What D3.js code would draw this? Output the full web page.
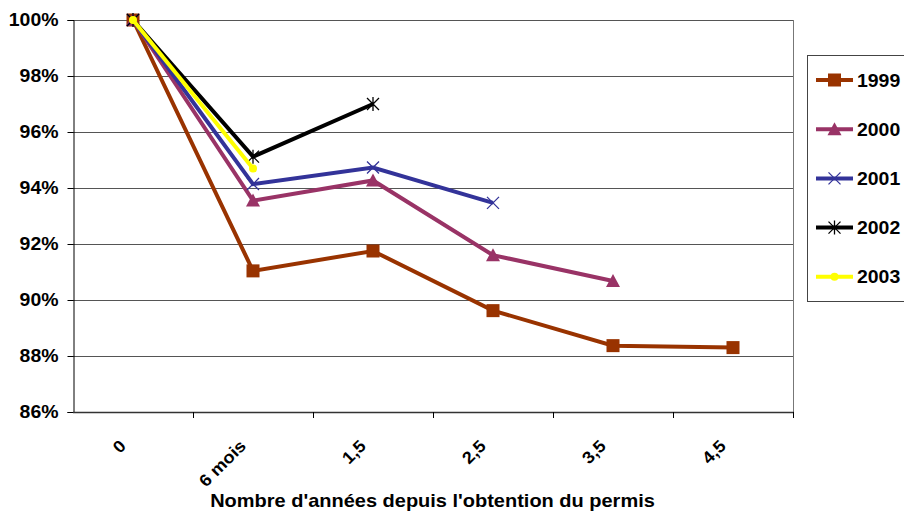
<!DOCTYPE html>
<html>
<head>
<meta charset="utf-8">
<script src="https://cdn.jsdelivr.net/npm/d3@7"></script>
<style>
  html, body { margin: 0; padding: 0; background: #fff; }
  svg { display: block; font-family: "Liberation Sans", Arial, Helvetica, sans-serif; }
</style>
</head>
<body>
<svg id="chart" width="904" height="512"></svg>
<script>
const categories = ["0", "6 mois", "1,5", "2,5", "3,5", "4,5"];
const seriesNames = ["1999", "2000", "2001", "2002", "2003"];
const values1999 = [1.0, 0.9104, 0.9175, 0.8962, 0.8837, 0.8830];
const values2000 = [1.0, 0.9355, 0.9427, 0.9160, 0.9068];
const values2001 = [1.0, 0.9414, 0.9473, 0.9347];
const values2002 = [1.0, 0.9512, 0.9700];
const values2003 = [1.0, 0.9470];
const yTicks = [0.86, 0.88, 0.90, 0.92, 0.94, 0.96, 0.98, 1.00];
const xTitle = "Nombre d'années depuis l'obtention du permis";

const colors = ["#993300", "#993366", "#333399", "#000000", "#FFFF00"];
const markers = ["square", "triangle", "x", "star", "circle"];
const allValues = [values1999, values2000, values2001, values2002, values2003];

const svg = d3.select("#chart");
const pLeft = 73, pRight = 793, pTop = 20, pBottom = 412;
const stretch = 1.08;

function widen(sel) {
  sel.each(function () {
    const w = this.getComputedTextLength();
    d3.select(this).attr("textLength", w * stretch).attr("lengthAdjust", "spacingAndGlyphs");
  });
}

const x = d3.scalePoint().domain(categories).range([pLeft, pRight]).padding(0.5);
const step = x.step();
const y = d3.scaleLinear().domain([0.86, 1.0]).range([pBottom, pTop]);

// gridlines
svg.append("g").selectAll("line").data(yTicks.slice(1)).join("line")
  .attr("x1", pLeft).attr("x2", pRight)
  .attr("y1", d => Math.round(y(d)) + 0.5).attr("y2", d => Math.round(y(d)) + 0.5)
  .attr("stroke", "#555").attr("stroke-width", 1);
// right border
svg.append("line").attr("x1", pRight + 0.5).attr("x2", pRight + 0.5)
  .attr("y1", pTop).attr("y2", pBottom).attr("stroke", "#777");

// y axis
const yAxis = svg.append("g").attr("transform", `translate(${pLeft + 0.5},0)`)
  .call(d3.axisLeft(y).tickValues(yTicks).tickFormat(d3.format(".0%")).tickSize(6).tickPadding(9));
yAxis.select(".domain").attr("stroke", "#000");
yAxis.selectAll(".tick line").attr("stroke", "#000");
yAxis.selectAll(".tick text").attr("font-size", 18).attr("font-weight", "bold")
  .attr("font-family", "Liberation Sans, Arial, sans-serif").attr("fill", "#000")
  .call(widen);

// x axis line
svg.append("line").attr("x1", pLeft).attr("x2", pRight + 1)
  .attr("y1", pBottom + 0.5).attr("y2", pBottom + 0.5).attr("stroke", "#333").attr("stroke-width", 1.5);
// x ticks at category boundaries
const boundaries = categories.map(c => x(c) + step / 2);
svg.append("g").selectAll("line").data(boundaries).join("line")
  .attr("x1", d => Math.round(d) + 0.5).attr("x2", d => Math.round(d) + 0.5)
  .attr("y1", pBottom).attr("y2", pBottom + 6).attr("stroke", "#000");
// x tick labels
svg.append("g").selectAll("text").data(categories).join("text")
  .attr("transform", d => `translate(${x(d) - 6},${pBottom + 35}) rotate(-45)`)
  .attr("text-anchor", "end")
  .attr("font-size", 17).attr("font-weight", "bold").attr("fill", "#000")
  .text(d => d)
  .call(widen);

// x title
svg.append("text").attr("x", (pLeft + pRight) / 2 - 0.5).attr("y", 507)
  .attr("text-anchor", "middle").attr("font-size", 18.5).attr("font-weight", "bold")
  .text(xTitle)
  .call(widen);

function drawMarker(g, type, color, cx, cy) {
  if (type === "square") {
    g.append("rect").attr("x", cx - 6.5).attr("y", cy - 6.5).attr("width", 13).attr("height", 13)
      .attr("fill", color);
  } else if (type === "triangle") {
    g.append("path").attr("d", `M${cx},${cy - 7} L${cx + 7},${cy + 6} L${cx - 7},${cy + 6} Z`)
      .attr("fill", color);
  } else if (type === "x") {
    g.append("path").attr("d", `M${cx - 6},${cy - 6} L${cx + 6},${cy + 6} M${cx - 6},${cy + 6} L${cx + 6},${cy - 6}`)
      .attr("stroke", color).attr("stroke-width", 1.3).attr("fill", "none");
  } else if (type === "star") {
    g.append("path").attr("d", `M${cx - 6},${cy - 6} L${cx + 6},${cy + 6} M${cx - 6},${cy + 6} L${cx + 6},${cy - 6} M${cx},${cy - 7} L${cx},${cy + 7}`)
      .attr("stroke", color).attr("stroke-width", 1.3).attr("fill", "none");
  } else if (type === "circle") {
    g.append("circle").attr("cx", cx).attr("cy", cy).attr("r", 4).attr("fill", color);
  }
}

const line = d3.line().x((d, i) => x(categories[i])).y(d => y(d));

allValues.forEach((vals, si) => {
  const g = svg.append("g");
  g.append("path").datum(vals).attr("d", line)
    .attr("fill", "none").attr("stroke", colors[si]).attr("stroke-width", 4)
    .attr("stroke-linejoin", "miter");
  vals.forEach((v, i) => drawMarker(g, markers[si], colors[si], x(categories[i]), y(v)));
});

// legend
const lg = svg.append("g");
lg.append("rect").attr("x", 807.5).attr("y", 55.5).attr("width", 120).attr("height", 246)
  .attr("fill", "#fff").attr("stroke", "#444");
seriesNames.forEach((name, si) => {
  const ly = 80 + si * 49.2;
  lg.append("line").attr("x1", 816).attr("x2", 853).attr("y1", ly).attr("y2", ly)
    .attr("stroke", colors[si]).attr("stroke-width", 4);
  drawMarker(lg, markers[si], colors[si], 834.5, ly);
  lg.append("text").attr("x", 857).attr("y", ly + 6.5).attr("font-size", 18).attr("font-weight", "bold")
    .text(name)
    .call(widen);
});
</script>
</body>
</html>
